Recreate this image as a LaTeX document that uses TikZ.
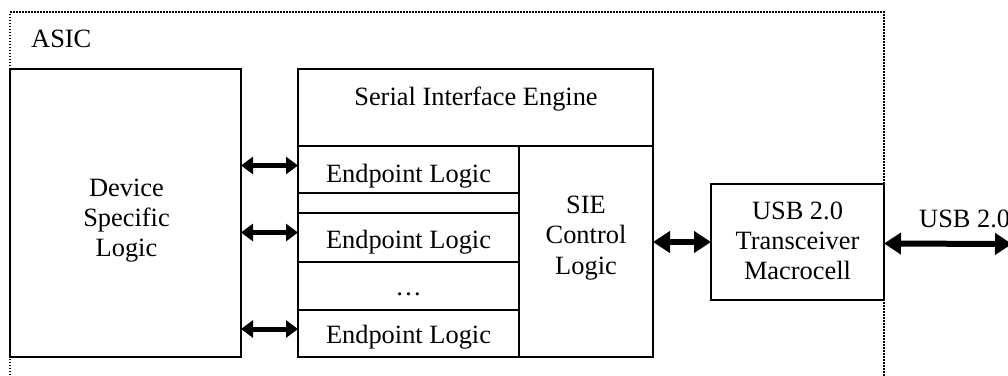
\documentclass[tikz,border=0pt]{standalone}
\usepackage{fontspec}
\setmainfont{Liberation Serif}
\usetikzlibrary{arrows.meta}
\begin{document}
\begin{tikzpicture}[x=1pt,y=-1pt,
  box/.style={draw, line width=1.6pt, rectangle, inner sep=0pt, outer sep=0pt},
  txt/.style={font=\fontsize{26.4}{30}\selectfont, inner sep=0pt, anchor=base, align=center},
  dblS/.style={line width=5pt, {Triangle[length=12pt,width=17pt]}-{Triangle[length=12pt,width=17pt]}},
  dblL/.style={line width=6pt, {Triangle[length=17pt,width=21pt]}-{Triangle[length=17pt,width=21pt]}},
  asicline/.style={line width=1.6pt, dash pattern=on 1.5pt off 1.5pt}]
\useasboundingbox (0,0) rectangle (1008,375);
% ASIC boundary
\draw[asicline] (10,390) -- (10,12) -- (884,12) -- (884,390);
\node[txt, anchor=base west] (asic) at (31,47) {ASIC};
% Device specific logic
\node[box, minimum width=231, minimum height=288] (dsl) at (125.5,213) {};
\node[txt] (dsltxt) at (126.5,196.7) {Device};
\node[txt] (dsltxt2) at (126.5,226.7) {Specific};
\node[txt] (dsltxt3) at (126.5,256.7) {Logic};
% Serial interface engine
\node[box, minimum width=355, minimum height=77] (sie) at (475.5,107.5) {};
\node[txt] (sietxt) at (476,105) {Serial Interface Engine};
\node[box, minimum width=134, minimum height=211] (ctrl) at (586,251.5) {};
\node[txt] (ctrltxt) at (586,213.3) {SIE};
\node[txt] (ctrltxt2) at (586,243.8) {Control};
\node[txt] (ctrltxt3) at (586,274.3) {Logic};
\node[box, minimum width=221, minimum height=47] (ep1) at (408.5,169.5) {};
\node[box, minimum width=221, minimum height=20] (gap) at (408.5,203) {};
\node[box, minimum width=221, minimum height=49] (ep2) at (408.5,237.5) {};
\node[box, minimum width=221, minimum height=48] (epd) at (408.5,286) {};
\node[box, minimum width=221, minimum height=47] (ep3) at (408.5,333.5) {};
\node[txt] (ep1txt) at (408.5,182.7) {Endpoint Logic};
\node[txt] (ep2txt) at (408.5,248) {Endpoint Logic};
\node[txt] (epdtxt) at (408.5,295.5) {\dots};
\node[txt] (ep3txt) at (408.5,343) {Endpoint Logic};
% Transceiver
\node[box, minimum width=173, minimum height=116] (utm) at (797.5,242) {};
\node[txt] (utmtxt) at (797.5,219) {USB 2.0};
\node[txt] (utmtxt2) at (797.5,249.5) {Transceiver};
\node[txt] (utmtxt3) at (797.5,279.5) {Macrocell};
% external
\coordinate (ext) at (1012,244);
\node[txt, anchor=base west] (usb) at (919,227) {USB 2.0};
% arrows
\draw[dblS] ([yshift=4pt]dsl.east |- ep1.west) -- ([yshift=4pt]ep1.west);
\draw[dblS] ([yshift=5pt]dsl.east |- ep2.west) -- ([yshift=5pt]ep2.west);
\draw[dblS] ([yshift=4.5pt]dsl.east |- ep3.west) -- ([yshift=4.5pt]ep3.west);
\draw[dblL] (ctrl.east |- utm.west) -- (utm.west);
\draw[dblL] ([yshift=-1.5pt]utm.east) -- (ext);
\end{tikzpicture}
\end{document}
